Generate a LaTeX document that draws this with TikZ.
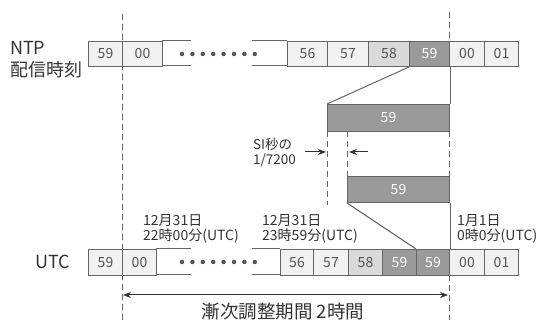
\documentclass[tikz,border=0pt]{standalone}
\usepackage{fontspec}
\setmainfont{Noto Sans CJK JP}
\usetikzlibrary{arrows.meta}
\definecolor{edge}{HTML}{666666}
\definecolor{light}{HTML}{F2F2F2}
\definecolor{mid}{HTML}{DADADA}
\definecolor{dark}{HTML}{9A9A9A}
\definecolor{txt}{HTML}{333333}
\definecolor{celltxt}{HTML}{555555}
\tikzset{
  cell/.style={draw=edge, line width=1pt, fill=light, anchor=north west, inner sep=0pt,
    text=celltxt, font=\fontsize{14}{14}\selectfont},
  midcell/.style={cell, fill=mid},
  darkcell/.style={cell, fill=dark, text=white},
  rowline/.style={draw=edge, line width=1pt},
  guide/.style={draw=edge, line width=1pt, dash pattern=on 6pt off 4pt},
  lbl/.style={text=txt, inner sep=0pt},
  datelbl/.style={lbl, anchor=west, font=\fontsize{14}{15.5}\selectfont, align=left},
  dotmark/.style={circle, fill=celltxt, inner sep=0pt, minimum size=4.5pt},
  tip/.style={-{Stealth[length=8pt,width=6pt]}, draw=txt, line width=1pt}
}
\begin{document}
\begin{tikzpicture}[x=1pt,y=-1pt]
\useasboundingbox (0,0) rectangle (542,320);

% guide dashed lines
\draw[guide] (122,14) -- (122,320);
\draw[guide] (449,12) -- (449,41);
\draw[guide] (449,131) -- (449,176);
\draw[guide] (449,275) -- (449,320);
\draw[guide] (327,131) -- (327,205);
\draw[guide] (347,131) -- (347,176);

% NTP row
\node[lbl, anchor=west, font=\fontsize{18}{18}\selectfont] (ntp) at (10,48) {NTP};
\node[lbl, anchor=west, font=\fontsize{18}{18}\selectfont] (haishin) at (10,70) {配信時刻};
\node[cell, minimum width=34pt, minimum height=25pt] (n1) at (88,41) {59};
\node[cell, minimum width=40pt, minimum height=25pt] (n2) at (122,41) {00};
\draw[rowline] (162,41) -- (191,41) (162,66) -- (191,66);
\draw[rowline] (252,41) -- (287,41) (252,66) -- (287,66);
\foreach \i in {0,...,7} \node[dotmark] (nd\i) at (182+10.4*\i,54) {};
\node[cell, minimum width=40pt, minimum height=25pt] (n56) at (287,41) {56};
\node[cell, minimum width=41pt, minimum height=25pt] (n57) at (327,41) {57};
\node[midcell, minimum width=41pt, minimum height=25pt] (n58) at (368,41) {58};
\node[darkcell, minimum width=40pt, minimum height=25pt] (n59) at (409,41) {59};
\node[cell, minimum width=35pt, minimum height=25pt] (n00) at (449,41) {00};
\node[cell, minimum width=34pt, minimum height=25pt] (n01) at (484,41) {01};

% stretched seconds
\node[darkcell, minimum width=122pt, minimum height=27pt] (b1) at (327,104) {59};
\node[darkcell, minimum width=102pt, minimum height=26pt] (b2) at (347,176) {59};
\draw[rowline] (n59.south west) -- (b1.north west);
\draw[rowline] (n59.south east) -- (b1.north east);

% SI label
\node[lbl, anchor=west, font=\fontsize{13.5}{15}\selectfont, align=left] (si) at (253,153) {SI秒の\\1/7200};
\coordinate (al) at (305,152);
\coordinate (alend) at (326,152);
\coordinate (ar) at (368,152);
\coordinate (arend) at (349,152);
\draw[tip] (al) -- (alend);
\draw[tip] (ar) -- (arend);

% UTC row
\node[lbl, anchor=west, font=\fontsize{18}{18}\selectfont] (utc) at (35,262) {UTC};
\node[cell, minimum width=34pt, minimum height=26pt] (u1) at (88,249) {59};
\node[cell, minimum width=34pt, minimum height=26pt] (u2) at (122,249) {00};
\draw[rowline] (156,249) -- (191,249) (156,275) -- (191,275);
\draw[rowline] (252,249) -- (280,249) (252,275) -- (280,275);
\foreach \i in {0,...,7} \node[dotmark] (ud\i) at (182+10.4*\i,262) {};
\node[cell, minimum width=33pt, minimum height=26pt] (u56) at (280,249) {56};
\node[cell, minimum width=35pt, minimum height=26pt] (u57) at (313,249) {57};
\node[midcell, minimum width=34pt, minimum height=26pt] (u58) at (348,249) {58};
\node[darkcell, minimum width=34pt, minimum height=26pt] (u59a) at (382,249) {59};
\node[darkcell, minimum width=33pt, minimum height=26pt] (u59b) at (416,249) {59};
\node[cell, minimum width=35pt, minimum height=26pt] (u00) at (449,249) {00};
\node[cell, minimum width=34pt, minimum height=26pt] (u01) at (484,249) {01};
\draw[rowline] (b2.south west) -- (u59b.north west);
\draw[rowline] (b2.south east) -- (u59b.north east);

% date labels
\node[datelbl] (d1) at (143,229) {12月31日\\22時00分(UTC)};
\node[datelbl] (d2) at (262,229) {12月31日\\23時59分(UTC)};
\node[datelbl] (d3) at (457,229) {1月1日\\0時0分(UTC)};

% period arrow
\coordinate (pl) at (123,295);
\coordinate (pr) at (448,295);
\draw[{Stealth[length=8pt,width=6pt]}-{Stealth[length=8pt,width=6pt]}, draw=txt, line width=1pt] (pl) -- (pr);
\node[lbl, font=\fontsize{18.5}{18.5}\selectfont] (period) at (283,312) {漸次調整期間 2時間};
\end{tikzpicture}
\end{document}
